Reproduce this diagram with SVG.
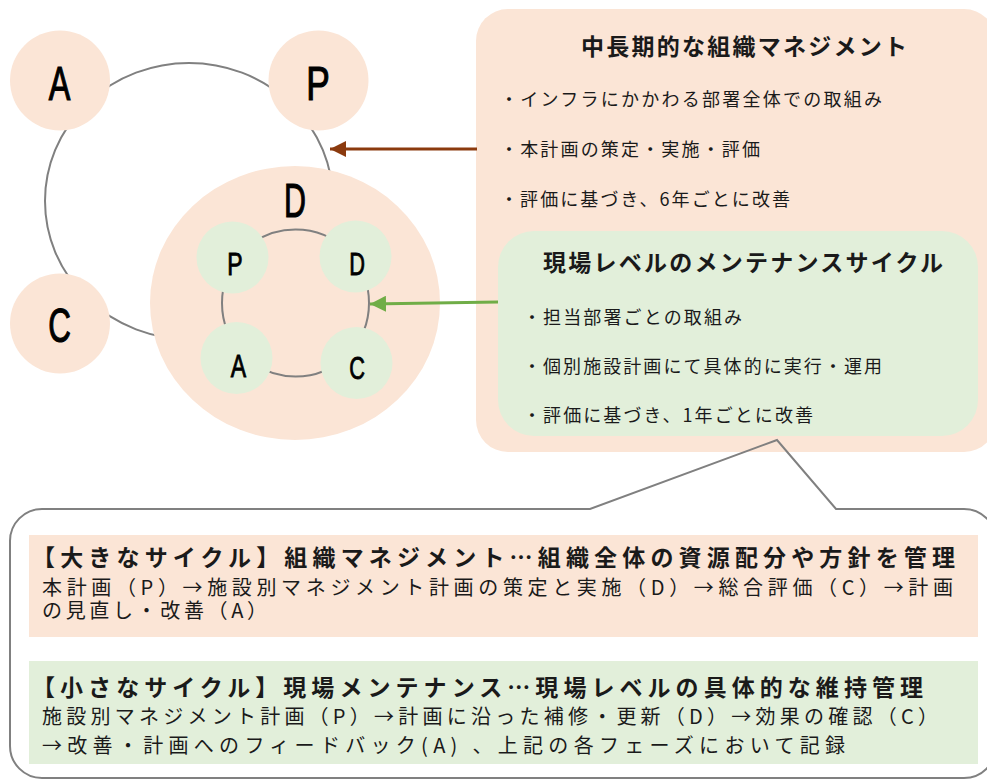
<svg xmlns="http://www.w3.org/2000/svg" width="987" height="782" viewBox="0 0 987 782">
<style>
.peach{fill:#FBE5D6}
.green{fill:#E2EFDA}
.ring{fill:none;stroke:#808080;stroke-width:2}
.big{font-family:"Liberation Sans",Arial,sans-serif;font-size:49px;fill:#000;stroke:#000;stroke-width:1.2;text-anchor:middle}
.sm{font-family:"Liberation Sans",Arial,sans-serif;font-size:32px;fill:#000;stroke:#000;stroke-width:0.9;text-anchor:middle}
.jp{font-family:"Noto Sans CJK JP","Noto Sans CJK SC",sans-serif;fill:#1a1a1a}
.ttl{font-size:23px;font-weight:bold}
.bul{font-size:18px}
.bb{font-size:23px;font-weight:bold}
.bt{font-size:20px}
</style>
<defs>
<marker id="ahBrown" markerUnits="userSpaceOnUse" markerWidth="18" markerHeight="16" refX="16" refY="8" orient="auto">
<path d="M0,0 L16,8 L0,16 Z" fill="#8B3A0E"/>
</marker>
<marker id="ahGreen" markerUnits="userSpaceOnUse" markerWidth="18" markerHeight="16" refX="16" refY="8" orient="auto">
<path d="M0,0 L16,8 L0,16 Z" fill="#70AD47"/>
</marker>
</defs>

<g id="big-cycle-ring">
<ellipse class="ring" cx="189" cy="201" rx="144" ry="138"/>
</g>

<g id="node-A">
<circle class="peach" cx="60" cy="80.5" r="50"/>
<text class="big" transform="translate(59.5,100) scale(0.66,1)">A</text>
</g>
<g id="node-P">
<circle class="peach" cx="318.5" cy="80.5" r="50"/>
<text class="big" transform="translate(318,100) scale(0.72,1)">P</text>
</g>
<g id="node-C">
<circle class="peach" cx="60" cy="323.5" r="50"/>
<text class="big" transform="translate(59.5,342) scale(0.64,1)">C</text>
</g>
<g id="node-D">
<ellipse class="peach" cx="295" cy="303" rx="145" ry="137"/>
<text class="big" transform="translate(295,217) scale(0.62,1)">D</text>
<circle class="ring" cx="295.5" cy="303" r="73.5"/>
<g id="small-P">
<circle class="green" cx="232.5" cy="257.5" r="36"/>
<text class="sm" transform="translate(235,275) scale(0.72,1)">P</text>
</g>
<g id="small-D">
<circle class="green" cx="355.5" cy="256.5" r="36"/>
<text class="sm" transform="translate(357,275) scale(0.68,1)">D</text>
</g>
<g id="small-A">
<circle class="green" cx="236.5" cy="358" r="36"/>
<text class="sm" transform="translate(238.5,377) scale(0.72,1)">A</text>
</g>
<g id="small-C">
<circle class="green" cx="356.5" cy="363" r="36"/>
<text class="sm" transform="translate(357,379) scale(0.68,1)">C</text>
</g>
</g>

<g id="org-management">
<rect class="peach" x="476" y="9" width="520" height="443" rx="32"/>
<text class="jp ttl" x="581" y="55" textLength="326" lengthAdjust="spacing">中長期的な組織マネジメント</text>
<text class="jp bul" x="500" y="106" textLength="382" lengthAdjust="spacing">・インフラにかかわる部署全体での取組み</text>
<text class="jp bul" x="500" y="156" textLength="260" lengthAdjust="spacing">・本計画の策定・実施・評価</text>
<text class="jp bul" x="500" y="206" textLength="290" lengthAdjust="spacing">・評価に基づき、6年ごとに改善</text>
</g>

<g id="site-maintenance">
<rect class="green" x="498" y="231" width="480" height="205" rx="36"/>
<text class="jp ttl" x="543" y="271" textLength="400" lengthAdjust="spacing">現場レベルのメンテナンスサイクル</text>
<text class="jp bul" x="523" y="324" textLength="219" lengthAdjust="spacing">・担当部署ごとの取組み</text>
<text class="jp bul" x="523" y="373" textLength="359" lengthAdjust="spacing">・個別施設計画にて具体的に実行・運用</text>
<text class="jp bul" x="523" y="422" textLength="290" lengthAdjust="spacing">・評価に基づき、1年ごとに改善</text>
</g>

<g id="connectors">
<line x1="477" y1="149" x2="330" y2="149" stroke="#8B3A0E" stroke-width="3" marker-end="url(#ahBrown)"/>
<line x1="498" y1="302" x2="370" y2="304" stroke="#70AD47" stroke-width="3" marker-end="url(#ahGreen)"/>
</g>

<g id="explanation-callout">
<path d="M42 509 L590 509 L777 440 L836 509 L964 509 A32 32 0 0 1 996 541 L996 746 A32 32 0 0 1 964 778 L42 778 A32 32 0 0 1 10 746 L10 541 A32 32 0 0 1 42 509 Z" fill="none" stroke="#808080" stroke-width="2"/>
<rect class="peach" x="29" y="535" width="949" height="102"/>
<text class="jp bb" x="32" y="566" textLength="923" lengthAdjust="spacing">【大きなサイクル】組織マネジメント…組織全体の資源配分や方針を管理</text>
<text class="jp bt" x="42" y="595" textLength="911" lengthAdjust="spacing">本計画（P）→施設別マネジメント計画の策定と実施（D）→総合評価（C）→計画</text>
<text class="jp bt" x="42" y="618" textLength="225" lengthAdjust="spacing">の見直し・改善（A）</text>
<rect class="green" x="29" y="661" width="949" height="103"/>
<text class="jp bb" x="32" y="696" textLength="891" lengthAdjust="spacing">【小さなサイクル】現場メンテナンス…現場レベルの具体的な維持管理</text>
<text class="jp bt" x="42" y="724" textLength="896" lengthAdjust="spacing">施設別マネジメント計画（P）→計画に沿った補修・更新（D）→効果の確認（C）</text>
<text class="jp bt" x="42" y="753" textLength="803" lengthAdjust="spacing">→改善・計画へのフィードバック(A) 、上記の各フェーズにおいて記録</text>
</g>
</svg>
